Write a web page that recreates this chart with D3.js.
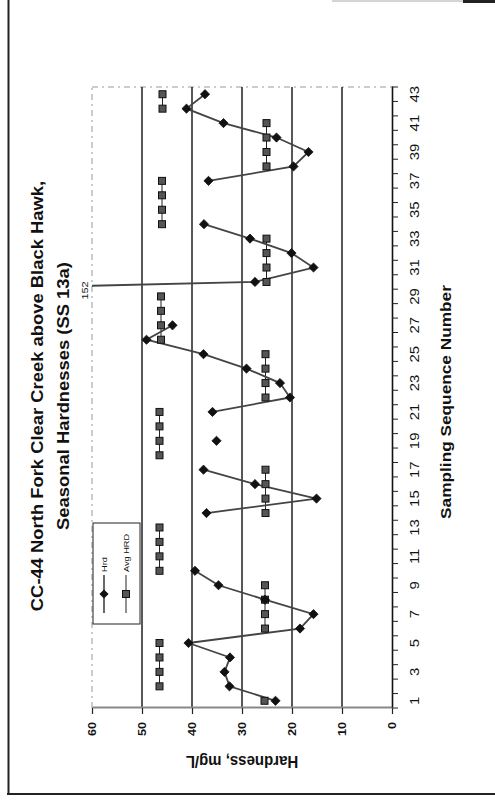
<!DOCTYPE html>
<html><head><meta charset="utf-8">
<script src="https://cdn.jsdelivr.net/npm/d3@7"></script>
<style>
html,body{margin:0;padding:0;background:#fff;}
svg{display:block;font-family:"Liberation Sans",Arial,sans-serif;}
</style></head><body>
<svg id="chart" width="495" height="801"></svg>
<script>
// ---------- data ----------
const sequenceNumbers = [1,2,3,4,5,6,7,8,9,10,11,12,13,14,15,16,17,18,19,20,21,22,23,24,25,26,27,28,29,30,31,32,33,34,35,36,37,38,39,40,41,42,43];
const hardness = [23.3,32.5,33.5,32.4,40.7,18.4,15.7,25.4,34.7,39.4,null,null,null,37.1,15.1,27.4,37.7,null,35.1,null,35.9,20.4,22.4,29.1,37.7,49.1,43.9,null,152,27.4,15.7,20.1,28.4,37.6,null,null,36.7,19.7,16.7,23.1,33.7,41.1,37.4];
const avgHardness = [25.5,46.5,46.5,46.5,46.5,25.4,25.4,25.4,25.4,46.5,46.5,46.5,46.5,25.3,25.3,25.3,25.3,46.5,46.5,46.5,46.5,25.3,25.3,25.3,25.3,46.2,46.2,46.2,46.2,25.1,25.1,25.1,25.1,46.0,46.0,46.0,46.0,25.1,25.1,25.1,25.1,45.9,45.9];
const hardnessTicks = [0,10,20,30,40,50,60];
const gridValues = [10,20,30,40,50];
const sequenceTickLabels = [1,3,5,7,9,11,13,15,17,19,21,23,25,27,29,31,33,35,37,39,41,43];
const titleLines = ["CC-44 North Fork Clear Creek above Black Hawk,", "Seasonal Hardnesses (SS 13a)"];
const xTitle = "Sampling Sequence Number";
const yTitle = "Hardness, mg/L";
const seriesNames = ["Hrd", "Avg HRD"];
const offScaleLabel = "152";

// ---------- page ----------
const svg = d3.select('#chart');
const K = 1.15; // scan stretch along the page's vertical direction

// scanned page frame
svg.append('line').attr('x1',8.5).attr('y1',0).attr('x2',8.5).attr('y2',794).attr('stroke','#222').attr('stroke-width',2);
svg.append('line').attr('x1',7).attr('y1',794).attr('x2',495).attr('y2',794).attr('stroke','#222').attr('stroke-width',2);
svg.append('line').attr('x1',332).attr('y1',1).attr('x2',463).attr('y2',1).attr('stroke','#aaa').attr('stroke-width',1);
svg.append('rect').attr('x',463).attr('y',0).attr('width',32).attr('height',3).attr('fill','#222');

// chart drawn unrotated, then turned 90deg counter-clockwise
const g = svg.append('g').attr('transform','translate(0,801) rotate(-90)');
const L = 93, R = 714, T = 92, B = 392;

const x = d3.scaleBand().domain(sequenceNumbers).range([L, R]).padding(0);
const y = d3.scaleLinear().domain([0, 60]).range([B, T]);
const bw = x.bandwidth();
const cx = n => x(n) + bw / 2;

g.append('clipPath').attr('id','plotclip').append('rect')
  .attr('x', L).attr('y', T).attr('width', R - L).attr('height', B - T);

// plot border (faint)
g.append('line').attr('x1',L).attr('x2',R).attr('y1',T).attr('y2',T)
  .attr('stroke','#999').attr('stroke-width',1).attr('stroke-dasharray','6,4,2,4');
g.append('line').attr('x1',R).attr('x2',R).attr('y1',T).attr('y2',B)
  .attr('stroke','#999').attr('stroke-width',1).attr('stroke-dasharray','6,4,2,4');

// gridlines
g.selectAll('.grid').data(gridValues).enter().append('line')
  .attr('x1', L).attr('x2', R).attr('y1', d => y(d)).attr('y2', d => y(d))
  .attr('stroke', '#111').attr('stroke-width', 1.4);

// hardness axis (value axis)
const yAxis = g.append('g').attr('transform', `translate(${L},0)`)
  .call(d3.axisLeft(y).tickValues(hardnessTicks).tickSize(6).tickSizeOuter(0).tickPadding(8));
yAxis.select('.domain').attr('stroke', '#888').attr('stroke-width', 2.2);
yAxis.selectAll('.tick line').attr('stroke', '#222').attr('stroke-width', 1.2);
yAxis.selectAll('.tick text').each(function() {
  const t = d3.select(this); const xx = +t.attr('x');
  t.attr('x', 0).attr('transform', `translate(${xx},0) scale(${K},1)`);
}).attr('font-size', 11).attr('font-weight', 'bold').attr('fill', '#111').attr('font-family','"Liberation Sans",Arial,sans-serif');

// sequence axis (category axis)
const xAxis = g.append('g').attr('transform', `translate(0,${B})`)
  .call(d3.axisBottom(x).tickValues(sequenceTickLabels).tickSize(0).tickSizeOuter(0).tickPadding(18));
xAxis.select('.domain').attr('stroke', '#111').attr('stroke-width', 1.6);
xAxis.selectAll('.tick text').each(function() {
  const t = d3.select(this); const yy = +t.attr('y');
  t.attr('y', 0).attr('transform', `translate(0,${yy}) scale(${K},1)`);
}).attr('font-size', 13).attr('fill', '#111').attr('font-family','"Liberation Sans",Arial,sans-serif');
// category boundary tick marks
xAxis.selectAll('.btick').data(d3.range(sequenceNumbers.length + 1)).enter().append('line')
  .attr('x1', i => L + i * bw).attr('x2', i => L + i * bw).attr('y1', 0).attr('y2', 6)
  .attr('stroke', '#222').attr('stroke-width', 1);

// ---------- series ----------
const hrdData = sequenceNumbers.map((n, i) => ({n, v: hardness[i]}));
const avgData = sequenceNumbers.map((n, i) => ({n, v: avgHardness[i]}));

// Avg HRD: segments within a season (equal consecutive values)
const segs = [];
for (let i = 1; i < avgData.length; i++) {
  if (avgData[i].v === avgData[i-1].v) segs.push([avgData[i-1], avgData[i]]);
}
const lineGen = d3.line().defined(d => d.v != null).x(d => cx(d.n)).y(d => y(d.v));
g.selectAll('.avgseg').data(segs).enter().append('path')
  .attr('d', lineGen).attr('fill', 'none').attr('stroke', '#222').attr('stroke-width', 1);

// Hrd line
g.append('path').datum(hrdData).attr('clip-path', 'url(#plotclip)')
  .attr('d', lineGen).attr('fill', 'none').attr('stroke', '#444').attr('stroke-width', 1.8);

// Avg squares
const sq = 7;
g.selectAll('.sq').data(avgData).enter().append('rect')
  .attr('x', d => cx(d.n) - sq/2).attr('y', d => y(d.v) - sq/2)
  .attr('width', sq).attr('height', sq)
  .attr('fill', '#555').attr('stroke', '#111').attr('stroke-width', 1);

// Hrd diamonds
const diamond = 'M0,-4.6L4.6,0L0,4.6L-4.6,0Z';
g.append('g').attr('clip-path', 'url(#plotclip)').selectAll('.dm')
  .data(hrdData.filter(d => d.v != null)).enter().append('path')
  .attr('d', diamond).attr('transform', d => `translate(${cx(d.n)},${y(d.v)})`)
  .attr('fill', '#111').attr('stroke', '#111').attr('stroke-width', 0.8);

// off-scale data label
const offIdx = hardness.findIndex(v => v != null && v > 60);
g.append('text').attr('transform', `translate(${cx(sequenceNumbers[offIdx]) + 6},88) scale(${K},1)`)
  .attr('text-anchor', 'middle').attr('font-size', 9.5).attr('fill', '#111').text(offScaleLabel);

// ---------- legend ----------
const lg = g.append('g');
lg.append('rect').attr('x', 177).attr('y', 93).attr('width', 101).attr('height', 47)
  .attr('fill', '#fff').attr('stroke', '#222').attr('stroke-width', 1);
const legendRows = [104, 126];
seriesNames.forEach((name, i) => {
  const vy = legendRows[i];
  lg.append('line').attr('x1', 188).attr('x2', 226).attr('y1', vy).attr('y2', vy)
    .attr('stroke', i === 0 ? '#444' : '#222').attr('stroke-width', i === 0 ? 1.6 : 1);
  if (i === 0) {
    lg.append('path').attr('d', diamond).attr('transform', `translate(207,${vy})`).attr('fill', '#111');
  } else {
    lg.append('rect').attr('x', 207 - sq/2).attr('y', vy - sq/2).attr('width', sq).attr('height', sq)
      .attr('fill', '#555').attr('stroke', '#111');
  }
  lg.append('text').attr('transform', `translate(229,${vy}) scale(${K},1)`).attr('dy', '0.35em')
    .attr('font-size', 8).attr('fill', '#111').text(name);
});

// ---------- titles ----------
const titleBase = [42.5, 68.5];
titleLines.forEach((t, i) => {
  g.append('text').attr('transform', `translate(405,${titleBase[i]}) scale(${K},1)`)
    .attr('text-anchor', 'middle').attr('font-size', 16).attr('font-weight', 'bold')
    .attr('fill', '#111').text(t);
});
g.append('text').attr('transform', `translate(399,451) scale(${K},1)`)
  .attr('text-anchor', 'middle').attr('font-size', 15).attr('font-weight', 'bold')
  .attr('fill', '#111').text(xTitle);
g.append('text').attr('transform', `translate(45,${(T + B) / 2}) rotate(-90) scale(1,${K})`)
  .attr('text-anchor', 'middle').attr('font-size', 15).attr('font-weight', 'bold')
  .attr('fill', '#111').text(yTitle);
</script>
</body></html>
